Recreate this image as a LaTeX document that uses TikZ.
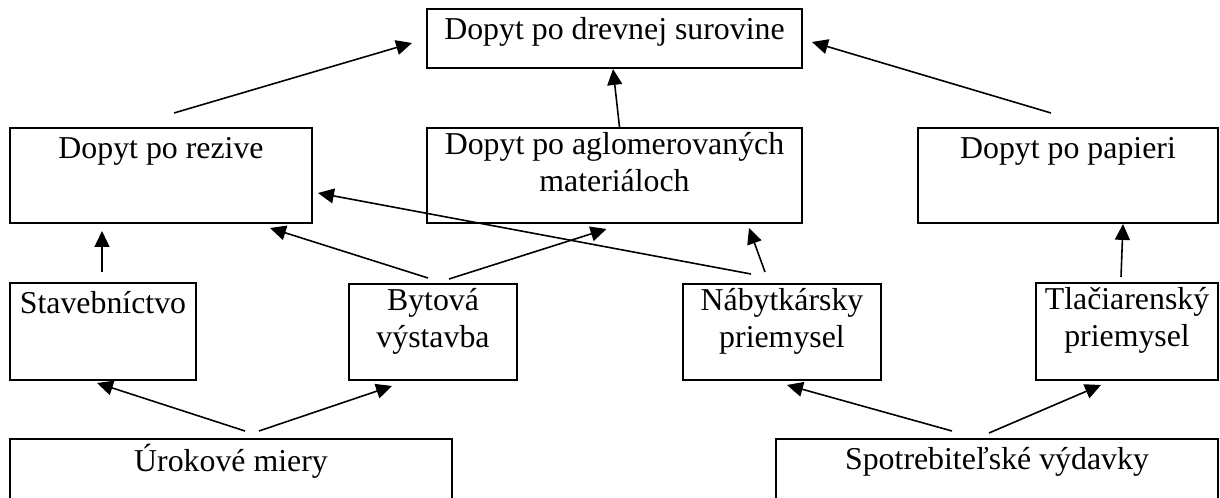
\documentclass[tikz,border=0pt]{standalone}
\usepackage{fontspec}
\setmainfont{Liberation Serif}
\usetikzlibrary{arrows.meta}

\tikzset{
  box/.style={draw, line width=0.75pt, inner sep=0pt, outer sep=0pt, anchor=north west},
  wh/.style 2 args={minimum width=#1*0.377pt, minimum height=#2*0.377pt},
  lbl/.style={anchor=north, yshift=-1.6pt, inner sep=0pt, align=center,
    font=\fontsize{12}{13.9}\selectfont, execute at begin node=\strut},
  arr/.style={line width=0.6pt, -{Triangle[length=6pt, width=5.6pt]}}
}

\begin{document}
\begin{tikzpicture}[x=0.377pt, y=-0.377pt]
	\useasboundingbox (0, 0) rectangle (1220, 498);

	\node[box, wh={375}{59}, label={[lbl]north:Dopyt po drevnej surovine}] (drev) at (427, 9) {};
	\node[box, wh={302}{95}, label={[lbl]north:Dopyt po rezive}] (rez) at (10, 128) {};
	\node[box, wh={375}{95}, label={[lbl]north:Dopyt po aglomerovaných\\materiáloch}] (agl) at (427, 128) {};
	\node[box, wh={300}{95}, label={[lbl]north:Dopyt po papieri}] (pap) at (918, 128) {};
	\node[box, wh={186}{97}, label={[lbl]north:Stavebníctvo}] (stav) at (10, 283) {};
	\node[box, wh={168}{96}, label={[lbl]north:Bytová\\výstavba}] (byt) at (349, 284) {};
	\node[box, wh={198}{96}, label={[lbl]north:Nábytkársky\\priemysel}] (nab) at (683, 284) {};
	\node[box, wh={182}{97}, label={[lbl]north:Tlačiarenský\\priemysel}] (tlac) at (1036, 283) {};
	\node[box, wh={442}{95}, label={[lbl]north:Úrokové miery}] (urok) at (10, 439) {};
	\node[box, wh={442}{95}, label={[lbl]north:Spotrebiteľské výdavky}] (spot) at (776, 439) {};

	% top row
	\draw [arr] ([shift={(13,-15)}]rez.north) to ([shift={(-15,4.5)}]drev.west);
	\draw [arr] ([shift={(5,-1)}]agl.north) to ([shift={(-1.5,1)}]drev.south);
	\draw [arr] ([shift={(-17,-15)}]pap.north) to ([shift={(10,3.5)}]drev.east);

	% middle row
	\draw [arr] ([shift={(-1,-11)}]stav.north) to ([shift={(-59,8)}]rez.south);
	\draw [arr] ([shift={(-5,-6)}]byt.north) to ([shift={(-42,5)}]rez.south east);
	\draw [arr] ([shift={(16,-5)}]byt.north) to ([shift={(-8,6)}]agl.south);
	\draw [arr] ([shift={(-31,-10)}]nab.north) to ([shift={(6,17.5)}]rez.east);
	\draw [arr] ([shift={(-17,-12)}]nab.north) to ([shift={(-53,5)}]agl.south east);
	\draw [arr] ([shift={(-6,-6)}]tlac.north) to ([shift={(55,1)}]pap.south);

	% bottom row
	\draw [arr] ([shift={(14,-8)}]urok.north) to ([shift={(-6,3)}]stav.south);
	\draw [arr] ([shift={(28,-8)}]urok.north) to ([shift={(43,6)}]byt.south west);
	\draw [arr] ([shift={(-45,-8)}]spot.north) to ([shift={(5,5)}]nab.south);
	\draw [arr] ([shift={(-8,-6)}]spot.north) to ([shift={(-26,5)}]tlac.south);
\end{tikzpicture}
\end{document}
